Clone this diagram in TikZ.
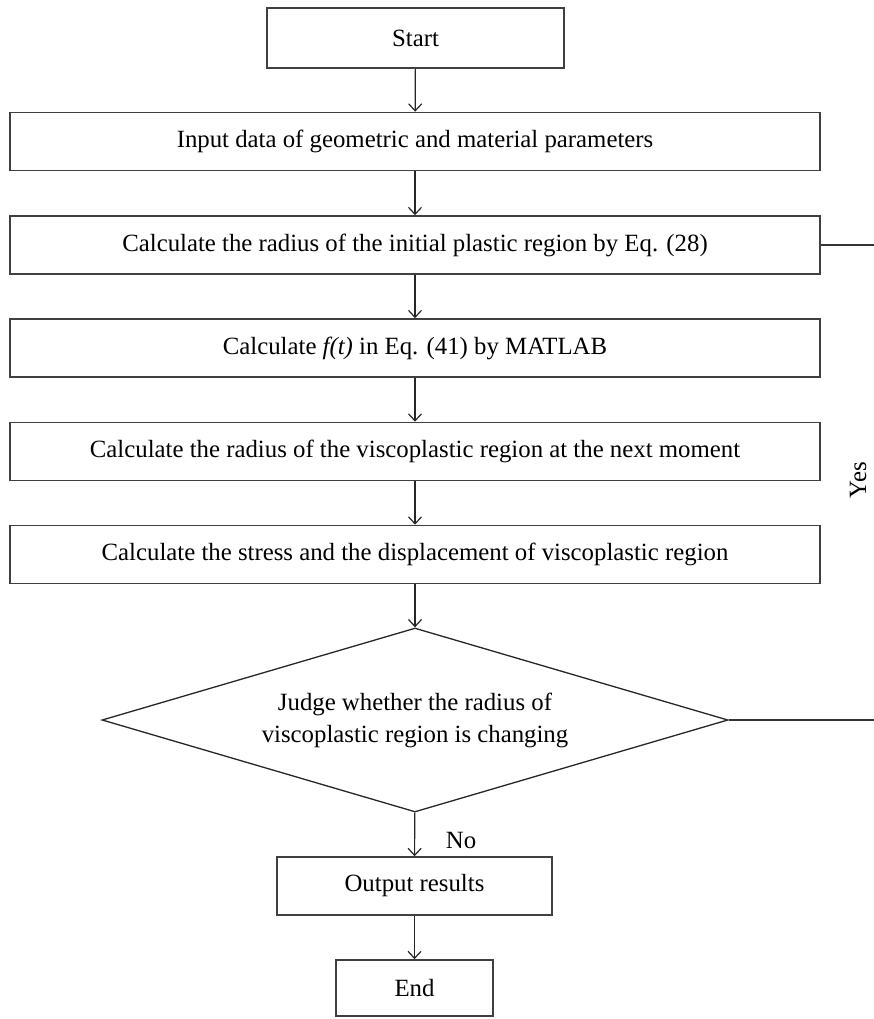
\documentclass[tikz,border=0pt]{standalone}
\usepackage{fontspec}
\setmainfont{Liberation Serif}
\usetikzlibrary{positioning,shapes.geometric,arrows.meta}

\begin{document}
\begin{tikzpicture}[
    x=1pt, y=-1pt,
    every node/.style={font=\fontsize{24.8}{32}\selectfont},
    stepbox/.style={draw=black!75, line width=1.6pt, minimum width=810pt, minimum height=58pt, inner sep=0pt},
    judgebox/.style={diamond, draw=black!85, line width=1.3pt, minimum width=626pt, minimum height=184pt, inner sep=0pt, aspect=3.4, align=center},
    flow/.style={draw=black!85, line width=1.2pt, -{Straight Barb[length=7pt,width=13pt]}},
    loopline/.style={draw=black!80, line width=1.4pt},
]
\useasboundingbox (0,0) rectangle (873,1019);

% Start
\node[stepbox, minimum width=297pt, minimum height=60pt] (start) at (415.5, 38) {Start};

% Steps
\node[stepbox] (input) at (415, 141.5) {Input data of geometric and material parameters};
\node[stepbox] (initial) at (415, 245) {Calculate the radius of the initial plastic region by Eq. (28)};
\node[stepbox] (ft) at (415, 348) {Calculate \textit{f(t)} in Eq. (41) by MATLAB};
\node[stepbox] (radius) at (415, 451.5) {Calculate the radius of the viscoplastic region at the next moment};
\node[stepbox] (stress) at (415, 554.5) {Calculate the stress and the displacement of viscoplastic region};

% Decision
\node[judgebox] (judge) at (415, 720) {Judge whether the radius of\\viscoplastic region is changing};

% Output and end
\node[stepbox, minimum width=275pt] (output) at (414.5, 886) {Output results};
\node[stepbox, minimum width=157pt, minimum height=56pt] (finish) at (414.5, 988) {End};

% Main flow
\draw[flow] (start) -- (input);
\draw[flow] (input) -- (initial);
\draw[flow] (initial) -- (ft);
\draw[flow] (ft) -- (radius);
\draw[flow] (radius) -- (stress);
\draw[flow] (stress) -- (judge);
\draw[flow] (judge) -- (output);
\draw[flow] (output) -- (finish);

% Labels
\node (no) at (461, 840) {No};
\node[rotate=90] (yes) at (858, 480) {Yes};

% Yes loop (vertical part lies past the right edge)
\coordinate (loopx) at (885, 0);
\draw[loopline] (judge.east) -- (loopx |- judge.east) -- (loopx |- initial.east) -- (initial.east);

\end{tikzpicture}
\end{document}
